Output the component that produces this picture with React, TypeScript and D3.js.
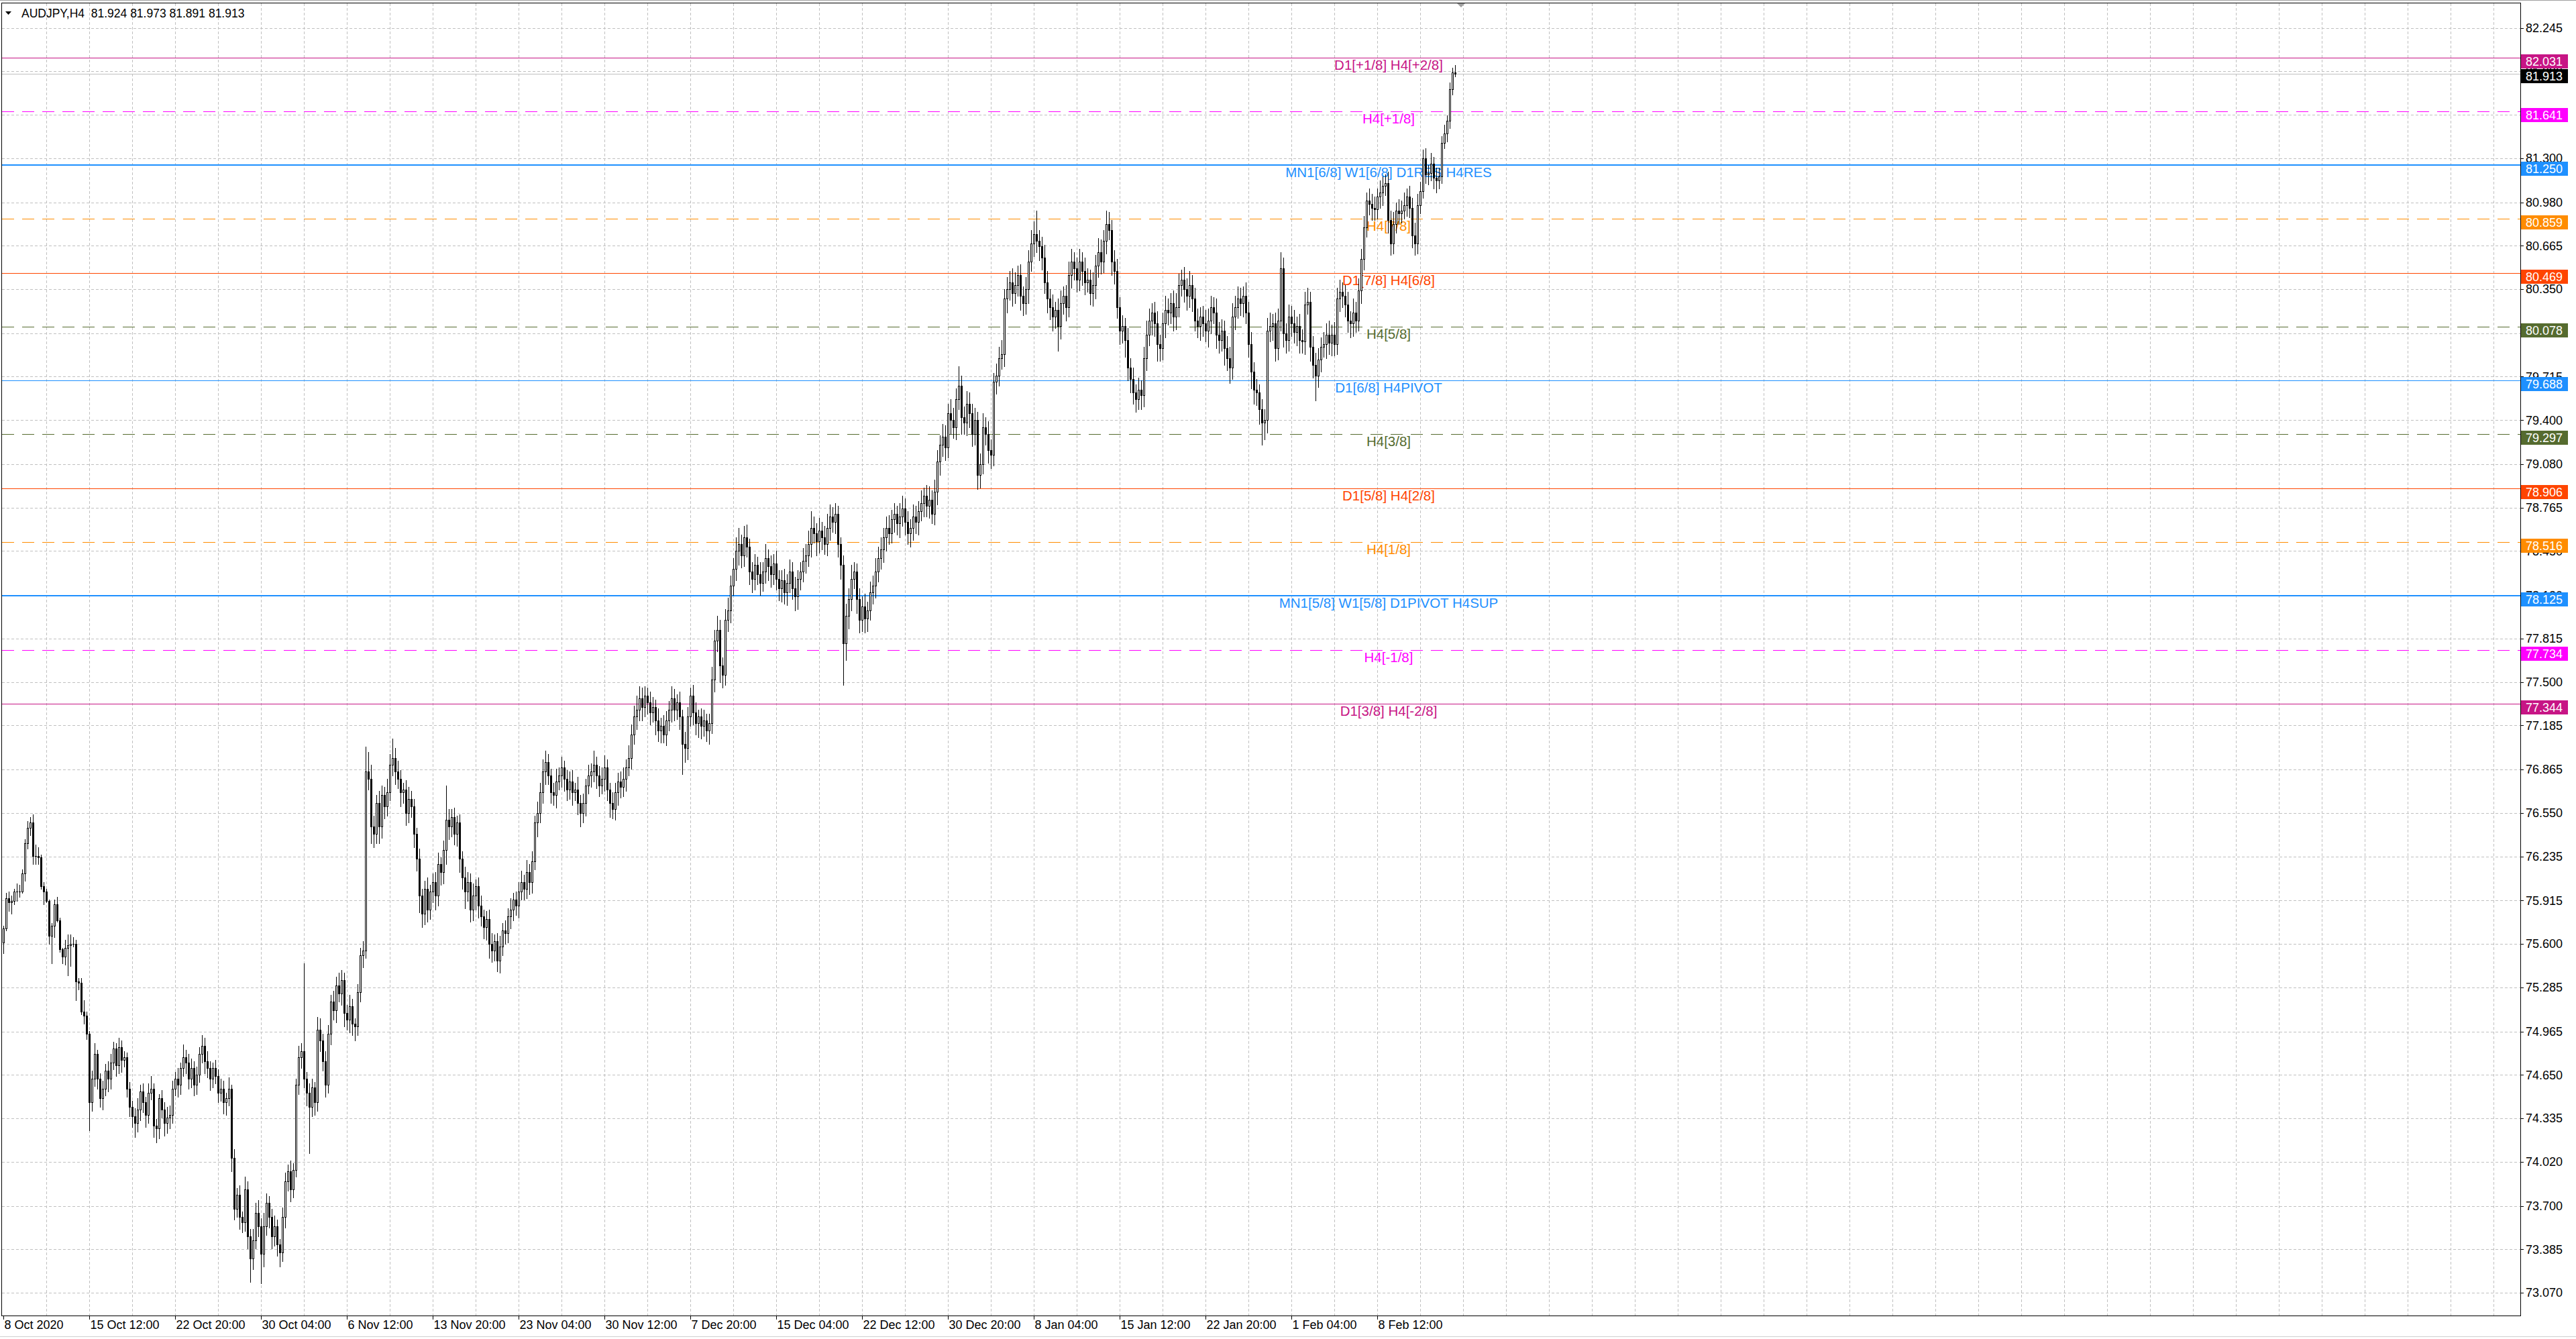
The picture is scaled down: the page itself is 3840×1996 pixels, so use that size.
import React from 'react';
import * as d3 from 'd3';

const symbolTitle = 'AUDJPY,H4';
const titleValues = ['81.924', '81.973', '81.891', '81.913'];
const firstOpen = 75.61;

const closes = [
  75.71, 75.93, 75.90, 75.91, 75.98, 75.98, 75.98, 76.11, 76.33, 76.44,
  76.48, 76.24, 76.24, 76.23, 76.02, 75.98, 75.91, 75.66, 75.73, 75.89,
  75.77, 75.56, 75.51, 75.57, 75.59, 75.60, 75.60, 75.33, 75.32, 75.11,
  75.08, 74.95, 74.45, 74.62, 74.80, 74.62, 74.48, 74.55, 74.68, 74.62,
  74.74, 74.84, 74.72, 74.85, 74.76, 74.78, 74.55, 74.42, 74.35, 74.30,
  74.40, 74.53, 74.45, 74.36, 74.52, 74.55, 74.28, 74.26, 74.48, 74.40,
  74.30, 74.34, 74.36, 74.55, 74.62, 74.58, 74.70, 74.78, 74.74, 74.62,
  74.70, 74.58, 74.65, 74.80, 74.86, 74.75, 74.70, 74.62, 74.70, 74.64,
  74.52, 74.55, 74.45, 74.48, 74.55, 74.05, 73.68, 73.78, 73.62, 73.58,
  73.82, 73.48, 73.32, 73.45, 73.65, 73.55, 73.35, 73.55, 73.72, 73.62,
  73.48, 73.55, 73.42, 73.36, 73.62, 73.88, 73.95, 73.82, 73.96, 74.58,
  74.78, 74.82, 74.62, 74.52, 74.42, 74.56, 74.45, 74.98, 74.90, 74.75,
  74.58, 74.95, 75.18, 75.12, 75.30, 75.24, 75.34, 75.10, 75.05, 75.15,
  75.02, 75.00, 75.25, 75.52, 75.55, 76.85, 76.80, 76.45, 76.40, 76.62,
  76.45, 76.68, 76.60, 76.70, 76.90, 76.95, 76.85, 76.80, 76.70, 76.72,
  76.55, 76.65, 76.60, 76.40, 76.22, 75.95, 75.82, 76.00, 75.85, 75.98,
  76.05, 75.95, 76.18, 76.12, 76.28, 76.50, 76.45, 76.52, 76.40, 76.48,
  76.22, 76.08, 75.98, 76.05, 75.85, 75.95, 76.02, 75.88, 75.80, 75.72,
  75.78, 75.60, 75.55, 75.62, 75.48, 75.58, 75.70, 75.68, 75.80, 75.85,
  75.92, 75.88, 75.98, 76.05, 76.00, 76.12, 76.05, 76.20, 76.48, 76.55,
  76.70, 76.85, 76.92, 76.82, 76.70, 76.68, 76.78, 76.82, 76.88, 76.80,
  76.72, 76.78, 76.70, 76.72, 76.62, 76.55, 76.62, 76.75, 76.82, 76.85,
  76.90, 76.82, 76.75, 76.80, 76.88, 76.72, 76.62, 76.58, 76.70, 76.78,
  76.74, 76.80, 76.88, 76.95, 77.12, 77.25, 77.30, 77.38, 77.32, 77.40,
  77.35, 77.28, 77.32, 77.22, 77.15, 77.18, 77.12, 77.22, 77.30, 77.38,
  77.30, 77.35, 77.25, 77.05, 77.02, 77.25, 77.40, 77.28, 77.20, 77.25,
  77.18, 77.22, 77.15, 77.20, 77.52, 77.80, 77.88, 77.62, 77.55, 77.95,
  78.02, 78.20, 78.32, 78.45, 78.50, 78.42, 78.55, 78.48, 78.30, 78.25,
  78.35, 78.28, 78.22, 78.30, 78.40, 78.34, 78.28, 78.36, 78.25, 78.18,
  78.24, 78.15, 78.22, 78.30, 78.18, 78.12, 78.25, 78.30, 78.38, 78.42,
  78.50, 78.62, 78.58, 78.52, 78.60, 78.55, 78.50, 78.62, 78.70, 78.66,
  78.72, 78.50, 78.35, 77.78, 77.98, 78.10, 78.25, 78.30, 78.10, 77.95,
  78.05, 77.96, 78.02, 78.15, 78.20, 78.30, 78.40, 78.46, 78.55, 78.62,
  78.58, 78.68, 78.72, 78.65, 78.70, 78.76, 78.66, 78.58, 78.62, 78.70,
  78.66, 78.74, 78.80, 78.85, 78.78, 78.82, 78.72, 78.88, 79.10, 79.22,
  79.28, 79.20, 79.45, 79.40, 79.35, 79.55, 79.65, 79.42, 79.38, 79.52,
  79.45, 79.30, 79.40, 79.00, 79.08, 79.35, 79.30, 79.18, 79.15, 79.68,
  79.72, 79.85, 79.88, 80.28, 80.35, 80.40, 80.32, 80.38, 80.45, 80.30,
  80.25, 80.35, 80.55, 80.68, 80.75, 80.70, 80.66, 80.58, 80.40, 80.28,
  80.22, 80.15, 80.20, 80.08, 80.25, 80.30, 80.22, 80.45, 80.55, 80.50,
  80.42, 80.55, 80.48, 80.40, 80.42, 80.32, 80.38, 80.52, 80.62, 80.55,
  80.70, 80.82, 80.78, 80.55, 80.48, 80.22, 80.05, 80.08, 79.98, 79.78,
  79.70, 79.60, 79.55, 79.62, 79.58, 79.85, 80.02, 80.12, 80.18, 80.10,
  79.95, 79.92, 80.10, 80.20, 80.18, 80.25, 80.15, 80.22, 80.38, 80.42,
  80.35, 80.30, 80.38, 80.28, 80.12, 80.08, 80.15, 80.10, 80.05, 80.12,
  80.22, 80.18, 80.02, 79.98, 80.05, 79.92, 79.85, 79.78, 80.15, 80.22,
  80.28, 80.25, 80.30, 80.18, 79.95, 79.75, 79.62, 79.60, 79.48, 79.38,
  79.40, 80.05, 80.08, 80.10, 79.92, 80.12, 80.50, 80.03, 79.98, 80.15,
  80.10, 80.04, 80.08, 79.98, 79.97, 80.24, 80.26, 79.93, 79.80, 79.72,
  79.84, 79.93, 79.95, 80.02, 79.96, 80.02, 79.95, 80.28, 80.33, 80.30,
  80.24, 80.12, 80.10, 80.18, 80.12, 80.34, 80.57, 80.80, 80.99, 80.97,
  80.94, 80.93, 81.02, 81.05, 81.10, 81.12, 80.85, 80.68, 80.82, 80.92,
  80.90, 80.92, 80.96, 81.02, 80.94, 80.74, 80.68, 80.96, 81.06, 81.30,
  81.18, 81.19, 81.26, 81.16, 81.14, 81.17, 81.41, 81.48, 81.57, 81.80,
  81.924, 81.913,
];

const upWick = [
  2, 4, 5, 4, 2, 6, 5, 3, 3, 5,
  4, 6, 8, 6, 2, 3, 2, 1, 2, 3,
  5, 2, 1, 6, 8, 7, 5, 3, 2, 3,
  8, 3, 2, 6, 8, 3, 4, 6, 5, 7,
  6, 5, 4, 7, 5, 4, 3, 5, 4, 6,
  8, 5, 6, 4, 7, 9, 4, 5, 3, 6,
  5, 8, 7, 6, 5, 8, 4, 9, 5, 6,
  7, 5, 6, 5, 8, 6, 7, 5, 4, 6,
  5, 7, 6, 4, 8, 3, 6, 5, 7, 4,
  9, 6, 5, 8, 7, 9, 6, 10, 7, 5,
  6, 8, 5, 4, 7, 6, 5, 8, 5, 4,
  8, 6, 64, 5, 7, 6, 4, 9, 8, 5,
  7, 6, 5, 8, 6, 9, 7, 5, 6, 8,
  5, 4, 6, 5, 7, 18, 14, 10, 8, 6,
  9, 7, 6, 10, 8, 14, 7, 8, 6, 5,
  7, 9, 6, 5, 4, 7, 5, 6, 8, 5,
  6, 7, 8, 5, 7, 25, 8, 6, 7, 5,
  6, 5, 8, 7, 6, 9, 5, 6, 7, 5,
  6, 7, 8, 5, 6, 8, 5, 7, 6, 8,
  5, 6, 7, 8, 5, 9, 6, 7, 5, 8,
  7, 9, 8, 6, 5, 7, 9, 6, 8, 5,
  6, 7, 8, 5, 9, 6, 7, 5, 8, 6,
  10, 6, 7, 8, 9, 6, 5, 8, 7, 6,
  7, 8, 6, 9, 7, 8, 10, 9, 8, 7,
  6, 8, 7, 5, 9, 6, 8, 7, 6, 9,
  7, 6, 8, 5, 9, 7, 6, 8, 7, 5,
  6, 8, 5, 7, 9, 8, 10, 7, 6, 8,
  9, 7, 8, 10, 12, 7, 8, 9, 6, 7,
  8, 6, 9, 7, 10, 6, 8, 7, 9, 6,
  7, 8, 6, 9, 7, 8, 6, 7, 9, 8,
  10, 12, 8, 7, 9, 6, 8, 10, 9, 7,
  8, 6, 5, 7, 9, 8, 10, 7, 6, 8,
  7, 9, 6, 8, 7, 10, 8, 9, 7, 8,
  9, 7, 8, 6, 10, 9, 7, 8, 6, 9,
  8, 7, 9, 6, 8, 10, 7, 9, 8, 7,
  9, 8, 7, 10, 9, 8, 14, 7, 8, 9,
  8, 7, 9, 6, 8, 10, 7, 9, 8, 6,
  9, 8, 10, 7, 9, 8, 10, 9, 7, 8,
  7, 9, 8, 10, 9, 17, 8, 7, 9, 8,
  7, 9, 6, 8, 9, 7, 8, 10, 9, 7,
  8, 9, 7, 10, 8, 7, 9, 8, 10, 9,
  8, 10, 9, 7, 8, 9, 7, 8, 6, 9,
  7, 8, 6, 9, 7, 8, 10, 9, 7, 8,
  9, 7, 8, 10, 8, 7, 9, 10, 8, 7,
  9, 8, 10, 7, 8, 9, 7, 8, 10, 9,
  8, 7, 10, 9, 8, 7, 9, 8, 10, 8,
  9, 8, 7, 10, 8, 9, 7, 8, 6, 7,
  8, 9, 10, 7, 8, 9, 12, 8, 7, 9,
  8, 10, 7, 9, 8, 9, 10, 7, 8, 9,
  8, 7, 9, 8, 10, 7, 9, 8, 9, 7,
  8, 9, 7, 10, 8, 9, 7, 8, 6, 9,
  7, 8, 6, 9, 7, 6, 8, 7, 9, 6,
  8, 7, 9, 6, 8, 7, 9, 8, 7, 6,
  7, 6, 8, 5, 7, 6, 5, 6, 4, 5,
  3, 4.9,
];

const dnWick = [
  8, 1, 6, 8, 2, 7, 4, 1, 5, 4,
  5, 6, 6, 5, 2, 9, 1, 6, 20, 8,
  1, 2, 5, 6, 20, 15, 2, 14, 5, 2,
  6, 4, 20, 6, 5, 7, 6, 8, 5, 9,
  7, 5, 8, 6, 9, 5, 6, 7, 8, 10,
  6, 8, 7, 9, 6, 5, 8, 10, 7, 6,
  9, 7, 8, 6, 5, 9, 7, 6, 8, 7,
  6, 8, 7, 5, 6, 9, 7, 8, 6, 5,
  7, 6, 8, 9, 5, 10, 8, 6, 9, 7,
  6, 9, 17, 8, 6, 7, 21, 9, 6, 8,
  9, 7, 8, 10, 6, 8, 7, 9, 6, 5,
  7, 8, 6, 9, 34, 7, 9, 6, 8, 7,
  9, 6, 8, 7, 9, 6, 8, 10, 7, 9,
  8, 10, 6, 7, 9, 5, 8, 12, 10, 7,
  12, 8, 9, 7, 6, 8, 9, 7, 10, 8,
  9, 7, 8, 10, 9, 12, 10, 8, 9, 7,
  8, 10, 7, 9, 8, 10, 9, 7, 8, 9,
  10, 8, 12, 7, 9, 8, 10, 9, 7, 8,
  9, 10, 8, 7, 8, 9, 6, 8, 7, 9,
  8, 7, 9, 6, 8, 7, 9, 8, 6, 10,
  7, 8, 9, 6, 8, 7, 9, 6, 8, 9,
  8, 7, 9, 6, 8, 10, 7, 9, 6, 8,
  7, 9, 8, 6, 9, 8, 10, 7, 8, 9,
  8, 7, 9, 6, 8, 7, 9, 8, 10, 7,
  8, 9, 7, 10, 8, 9, 6, 8, 7, 9,
  8, 7, 9, 22, 10, 8, 7, 9, 8, 10,
  9, 7, 8, 10, 7, 9, 8, 12, 9, 7,
  8, 9, 7, 8, 10, 9, 8, 7, 9, 10,
  8, 7, 9, 6, 8, 10, 9, 7, 8, 9,
  10, 8, 9, 7, 8, 10, 9, 8, 7, 9,
  8, 9, 7, 10, 8, 9, 7, 8, 9, 7,
  8, 9, 10, 30, 12, 9, 8, 7, 10, 9,
  8, 10, 9, 7, 8, 9, 7, 8, 9, 10,
  8, 7, 9, 8, 10, 7, 9, 8, 10, 9,
  8, 9, 7, 10, 8, 9, 7, 8, 9, 10,
  8, 9, 7, 10, 8, 9, 7, 12, 8, 9,
  10, 9, 8, 10, 9, 7, 8, 9, 10, 8,
  9, 7, 8, 9, 10, 8, 9, 7, 8, 10,
  9, 8, 10, 7, 9, 8, 10, 9, 8, 10,
  9, 10, 8, 18, 9, 8, 10, 7, 9, 8,
  9, 8, 10, 9, 7, 8, 9, 10, 8, 9,
  8, 9, 7, 10, 9, 8, 10, 9, 12, 9,
  10, 8, 9, 7, 10, 8, 9, 8, 10, 9,
  12, 9, 8, 10, 9, 8, 10, 9, 7, 8,
  9, 10, 8, 9, 7, 8, 10, 9, 8, 12,
  9, 8, 10, 9, 8, 12, 9, 11, 8, 9,
  8, 9, 10, 8, 9, 12, 10, 9, 11, 16,
  12, 9, 8, 10, 9, 8, 7, 10, 9, 8,
  9, 8, 10, 9, 8, 9, 7, 10, 9, 18,
  8, 9, 7, 10, 8, 9, 8, 7, 9, 8,
  9, 8, 10, 9, 8, 7, 9, 8, 7, 8,
  9, 8, 7, 8, 9, 7, 9, 8, 7, 6,
  8, 7, 6, 8, 7, 9, 8, 7, 6, 5,
  6, 7, 5, 8, 9, 6, 5, 4, 6, 5,
  4, 2.2,
];

const priceTicks = [
  82.245, 81.930, 81.615, 81.300, 80.980, 80.665, 80.350, 80.030, 79.715, 79.400,
  79.080, 78.765, 78.450, 78.130, 77.815, 77.500, 77.185, 76.865, 76.550, 76.235,
  75.915, 75.600, 75.285, 74.965, 74.650, 74.335, 74.020, 73.700, 73.385, 73.070,
];

const timeLabels = [
  '8 Oct 2020', '15 Oct 12:00', '22 Oct 20:00', '30 Oct 04:00', '6 Nov 12:00',
  '13 Nov 20:00', '23 Nov 04:00', '30 Nov 12:00', '7 Dec 20:00', '15 Dec 04:00',
  '22 Dec 12:00', '30 Dec 20:00', '8 Jan 04:00', '15 Jan 12:00', '22 Jan 20:00',
  '1 Feb 04:00', '8 Feb 12:00',
];
const barsPerLabel = 32;
const barsPerGrid = 16;

const levelPrices = [82.031, 81.641, 81.250, 80.859, 80.469, 80.078, 79.688, 79.297, 78.906, 78.516, 78.125, 77.734, 77.344];
const levelNames = [
  'D1[+1/8] H4[+2/8]', 'H4[+1/8]', 'MN1[6/8] W1[6/8] D1RES H4RES', 'H4[7/8]',
  'D1[7/8] H4[6/8]', 'H4[5/8]', 'D1[6/8] H4PIVOT', 'H4[3/8]', 'D1[5/8] H4[2/8]',
  'H4[1/8]', 'MN1[5/8] W1[5/8] D1PIVOT H4SUP', 'H4[-1/8]', 'D1[3/8] H4[-2/8]',
];
const bidPrice = 81.913;

// styles (kept apart from data)
const levelKinds = ['violet', 'magenta', 'blueMain', 'orange', 'red', 'olive', 'blue', 'olive', 'red', 'orange', 'blueMain', 'magenta', 'violet'];
const kindStyle: Record<string, { color: string; dash: string | null; width: number }> = {
  violet: { color: '#C71585', dash: null, width: 1 },
  magenta: { color: '#FF00FF', dash: '18,12', width: 1 },
  blueMain: { color: '#1E90FF', dash: null, width: 2 },
  blue: { color: '#1E90FF', dash: null, width: 1 },
  orange: { color: '#FF8C00', dash: '18,12', width: 1 },
  red: { color: '#FF4500', dash: null, width: 1 },
  olive: { color: '#556B2F', dash: '18,12', width: 1 },
};

const W = 3840;
const H = 1996;
const plotLeft = 2.5;
const plotRight = 3757.5;
const plotTop = 4.5;
const plotBottom = 1961.5;
const FONT = "'Liberation Sans', Arial, sans-serif";

export default function App() {
  const x = d3.scaleLinear().domain([0, 1]).range([5.5, 9.5]);
  const y = d3.scaleLinear().domain([73.07, 82.245]).range([1927, 41.6]);
  const snap = (v: number) => Math.round(v) + 0.5;

  const bars = closes.map((c, i) => {
    const o = i === 0 ? firstOpen : closes[i - 1];
    const h = Math.max(o, c) + upWick[i] / 100;
    const l = Math.min(o, c) - dnWick[i] / 100;
    return { i, o, h, l, c };
  });

  const nGrid = Math.floor((plotRight - x(0)) / (x(barsPerGrid) - x(0)));
  const gridX = d3.range(1, nGrid + 1).map((k) => x(k * barsPerGrid));

  const boxTop = (p: number) => Math.round(y(p)) - 5;
  const boxH = 21;

  return (
    <svg
      width={W}
      height={H}
      viewBox={`0 0 ${W} ${H}`}
      style={{ position: 'absolute', left: 0, top: 0, display: 'block', background: '#fff' }}
    >
      <rect x={0} y={0} width={W} height={H} fill="#ffffff" />
      <line x1={0} x2={W} y1={0.5} y2={0.5} stroke="#a0a0a0" />
      <line x1={0} x2={W} y1={1992.5} y2={1992.5} stroke="#d0d0d0" />

      {/* grid */}
      <g stroke="#c0c0c0" strokeDasharray="4,3" shapeRendering="crispEdges">
        {gridX.map((gx, k) => (
          <line key={'gx' + k} x1={gx} x2={gx} y1={plotTop} y2={plotBottom} />
        ))}
        {priceTicks.map((p, k) => (
          <line key={'gy' + k} x1={plotLeft} x2={plotRight} y1={snap(y(p))} y2={snap(y(p))} />
        ))}
      </g>

      {/* levels */}
      <g shapeRendering="crispEdges">
        {levelPrices.map((p, k) => {
          const st = kindStyle[levelKinds[k]];
          const yy = st.width === 2 ? Math.round(y(p)) : snap(y(p));
          return (
            <line
              key={'lv' + k}
              x1={plotLeft}
              x2={plotRight}
              y1={yy}
              y2={yy}
              stroke={st.color}
              strokeWidth={st.width}
              strokeDasharray={st.dash ?? undefined}
            />
          );
        })}
        <line x1={plotLeft} x2={plotRight} y1={snap(y(bidPrice))} y2={snap(y(bidPrice))} stroke="#c0c0c0" />
      </g>
      <g fontFamily={FONT} fontSize={20.5} textAnchor="middle">
        {levelPrices.map((p, k) => (
          <text key={'lt' + k} x={2070} y={y(p) + 18} fill={kindStyle[levelKinds[k]].color}>
            {levelNames[k]}
          </text>
        ))}
      </g>

      {/* candles */}
      <g shapeRendering="crispEdges">
        {bars.map((b) => {
          const cx = x(b.i);
          const yo = Math.round(y(b.o));
          const yc = Math.round(y(b.c));
          const yh = Math.round(y(b.h));
          const yl = Math.round(y(b.l));
          const up = b.c >= b.o;
          const top = Math.min(yo, yc);
          const bot = Math.max(yo, yc);
          return (
            <g key={'c' + b.i}>
              <line x1={cx} x2={cx} y1={yh} y2={yl + 1} stroke="#000" />
              {bot - top < 1 ? (
                <line x1={cx - 1.5} x2={cx + 1.5} y1={top + 0.5} y2={top + 0.5} stroke="#000" />
              ) : up ? (
                <rect x={cx - 1} y={top + 0.5} width={2} height={bot - top} fill="#fff" stroke="#000" />
              ) : (
                <rect x={cx - 1.5} y={top} width={3} height={bot - top + 1} fill="#000" />
              )}
            </g>
          );
        })}
      </g>

      {/* frame */}
      <rect
        x={plotLeft}
        y={plotTop}
        width={plotRight - plotLeft}
        height={plotBottom - plotTop}
        fill="none"
        stroke="#000"
        shapeRendering="crispEdges"
      />
      <polygon points="2172,5 2184,5 2178,11" fill="#a0a0a0" />

      {/* title */}
      <polygon points="8,17 17,17 12.5,22" fill="#000" />
      <text x={32} y={26} fontFamily={FONT} fontSize={17.5} fill="#000" xmlSpace="preserve">
        {symbolTitle + '  ' + titleValues.join(' ')}
      </text>

      {/* price axis */}
      <g fontFamily={FONT} fontSize={18} fill="#000">
        {priceTicks.map((p, k) => (
          <g key={'pt' + k}>
            <line x1={plotRight} x2={plotRight + 4} y1={snap(y(p))} y2={snap(y(p))} stroke="#000" shapeRendering="crispEdges" />
            <text x={3765} y={y(p)} dy="0.35em">
              {p.toFixed(3)}
            </text>
          </g>
        ))}
      </g>

      {/* time axis */}
      <g fontFamily={FONT} fontSize={18} fill="#000">
        {timeLabels.map((t, k) => {
          const tx = x(k * barsPerLabel);
          return (
            <g key={'tl' + k}>
              <line x1={tx} x2={tx} y1={plotBottom} y2={plotBottom + 5} stroke="#000" shapeRendering="crispEdges" />
              <text x={tx + 1} y={1981}>
                {t}
              </text>
            </g>
          );
        })}
      </g>

      {/* level price boxes */}
      <g fontFamily={FONT} fontSize={18}>
        {levelPrices.map((p, k) => (
          <g key={'pb' + k}>
            <rect x={3758} y={boxTop(p)} width={70} height={boxH} fill={kindStyle[levelKinds[k]].color} />
            <text x={3765} y={boxTop(p) + boxH / 2} dy="0.35em" fill="#fff">
              {p.toFixed(3)}
            </text>
          </g>
        ))}
        <rect x={3758} y={boxTop(bidPrice) - 2} width={70} height={boxH} fill="#000" />
        <text x={3765} y={boxTop(bidPrice) - 2 + boxH / 2} dy="0.35em" fill="#fff">
          {bidPrice.toFixed(3)}
        </text>
      </g>
    </svg>
  );
}
